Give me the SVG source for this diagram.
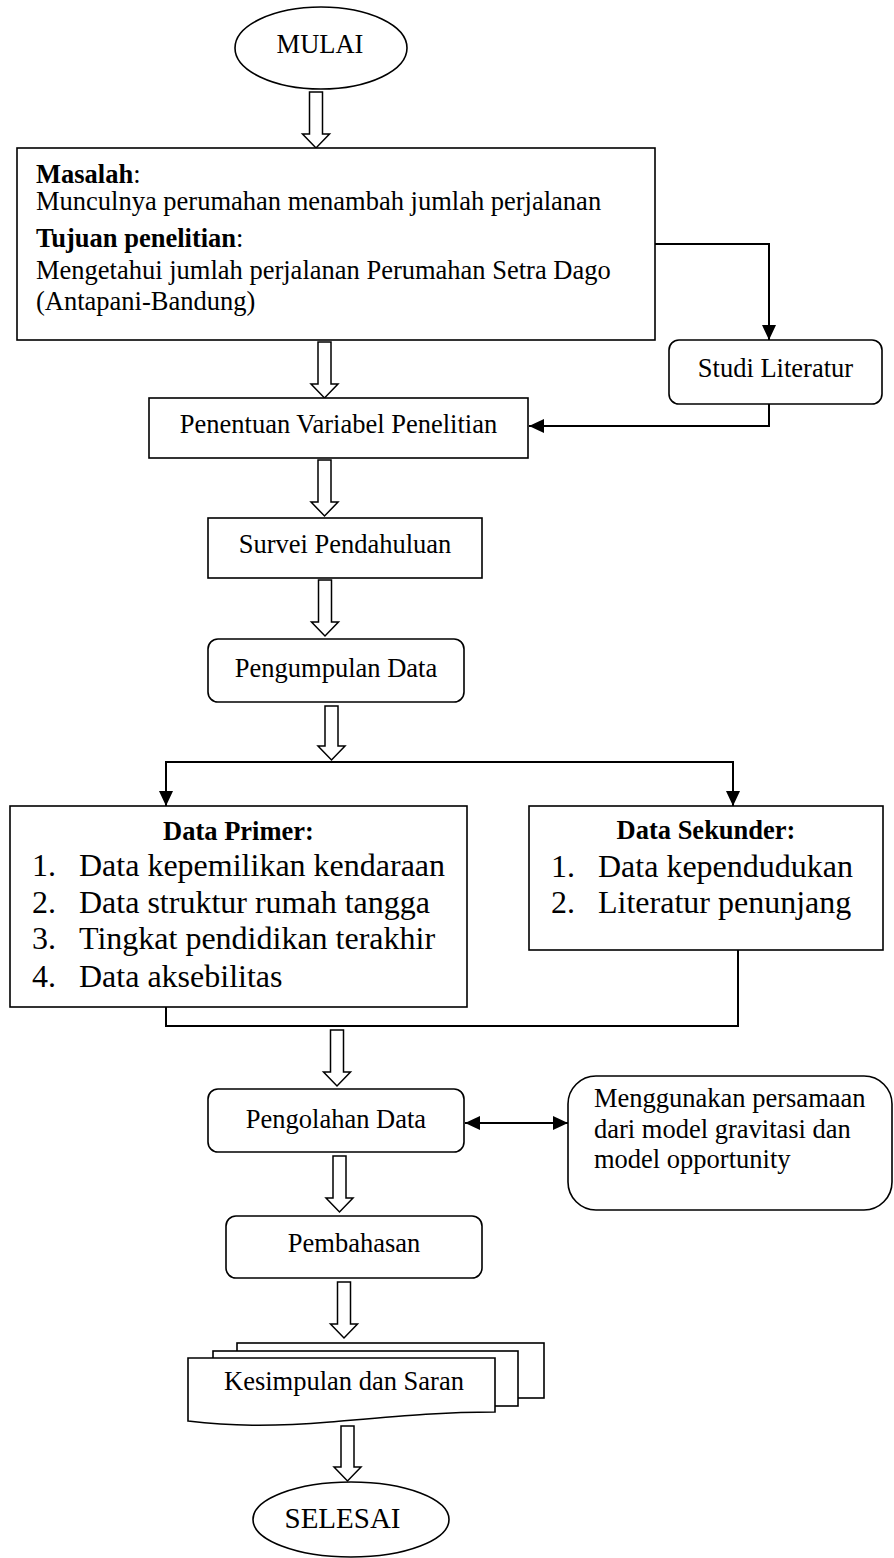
<svg xmlns="http://www.w3.org/2000/svg" width="894" height="1558" viewBox="0 0 894 1558">
<style>
text{font-family:"Liberation Serif","Times New Roman",serif;font-size:26.5px;fill:#000}
.b{font-weight:bold}
.big{font-size:32px}
.mid{text-anchor:middle}
.box{fill:#fff;stroke:#000;stroke-width:1.6}
.blk{fill:#fff;stroke:#000;stroke-width:1.5;stroke-linejoin:miter}
.con{fill:none;stroke:#000;stroke-width:2}
</style>
<defs>
<marker id="ah" viewBox="0 0 15 14" refX="15" refY="7" markerWidth="15" markerHeight="14" markerUnits="userSpaceOnUse" orient="auto-start-reverse">
<path d="M0,0 L15,7 L0,14 Z" fill="#000"/>
</marker>
</defs>
<rect width="894" height="1558" fill="#fff"/>

<g id="connectors">
<path class="con" d="M655,244 H769 V340" marker-end="url(#ah)"/>
<path class="con" d="M769,404 V426 H529" marker-end="url(#ah)"/>
<path class="con" d="M331,762 H166 V806" marker-end="url(#ah)"/>
<path class="con" d="M331,762 H733 V806" marker-end="url(#ah)"/>
<path class="con" d="M166,1007 V1026 H738 V950"/>
<path class="con" d="M465,1123 H568" marker-start="url(#ah)" marker-end="url(#ah)"/>
<polygon class="blk" points="309.5,92 322.5,92 322.5,134 329.5,134 316,148 302.5,134 309.5,134"/>
<polygon class="blk" points="318,342 331,342 331,384 338,384 324.5,398 311,384 318,384"/>
<polygon class="blk" points="318,460 331,460 331,502 338,502 324.5,516 311,502 318,502"/>
<polygon class="blk" points="318.5,580 331.5,580 331.5,622 338.5,622 325,636 311.5,622 318.5,622"/>
<polygon class="blk" points="325,706 338,706 338,746 345,746 331.5,760 318,746 325,746"/>
<polygon class="blk" points="330.5,1030 343.5,1030 343.5,1072 350.5,1072 337,1086 323.5,1072 330.5,1072"/>
<polygon class="blk" points="333,1156 346,1156 346,1198 353,1198 339.5,1212 326,1198 333,1198"/>
<polygon class="blk" points="337.5,1282 350.5,1282 350.5,1324 357.5,1324 344,1338 330.5,1324 337.5,1324"/>
<polygon class="blk" points="341,1426 354,1426 354,1467 361,1467 347.5,1481 334,1467 341,1467"/>
</g>

<g id="mulai">
<ellipse class="box" cx="321" cy="48" rx="86" ry="41"/>
<text class="mid" x="320" y="53">MULAI</text>
</g>

<g id="masalah">
<rect class="box" x="17" y="148" width="638" height="192"/>
<text x="36" y="183"><tspan class="b">Masalah</tspan>:</text>
<text x="36" y="210">Munculnya perumahan menambah jumlah perjalanan</text>
<text x="36" y="247"><tspan class="b">Tujuan penelitian</tspan>:</text>
<text x="36" y="279">Mengetahui jumlah perjalanan Perumahan Setra Dago</text>
<text x="36" y="310">(Antapani-Bandung)</text>
</g>

<g id="studi">
<rect class="box" x="669" y="340" width="213" height="64" rx="10"/>
<text class="mid" x="775.5" y="377">Studi Literatur</text>
</g>

<g id="penentuan">
<rect class="box" x="149" y="398" width="379" height="60"/>
<text class="mid" x="338.5" y="433">Penentuan Variabel Penelitian</text>
</g>

<g id="survei">
<rect class="box" x="208" y="518" width="274" height="60"/>
<text class="mid" x="345" y="553">Survei Pendahuluan</text>
</g>

<g id="pengumpulan">
<rect class="box" x="208" y="639" width="256" height="63" rx="10"/>
<text class="mid" x="336" y="677">Pengumpulan Data</text>
</g>

<g id="primer">
<rect class="box" x="10" y="806" width="457" height="201"/>
<text class="mid b" x="238.5" y="840">Data Primer:</text>
<text class="big" x="32" y="876">1.</text><text class="big" x="79" y="876">Data kepemilikan kendaraan</text>
<text class="big" x="32" y="913">2.</text><text class="big" x="79" y="913">Data struktur rumah tangga</text>
<text class="big" x="32" y="949">3.</text><text class="big" x="79" y="949">Tingkat pendidikan terakhir</text>
<text class="big" x="32" y="987">4.</text><text class="big" x="79" y="987">Data aksebilitas</text>
</g>

<g id="sekunder">
<rect class="box" x="529" y="806" width="354" height="144"/>
<text class="mid b" x="706" y="839">Data Sekunder:</text>
<text class="big" x="551" y="877">1.</text><text class="big" x="598" y="877">Data kependudukan</text>
<text class="big" x="551" y="913">2.</text><text class="big" x="598" y="913">Literatur penunjang</text>
</g>

<g id="pengolahan">
<rect class="box" x="208" y="1089" width="256" height="63" rx="10"/>
<text class="mid" x="336" y="1128">Pengolahan Data</text>
</g>

<g id="menggunakan">
<rect class="box" x="568" y="1076" width="324" height="134" rx="28"/>
<text x="594" y="1107">Menggunakan persamaan</text>
<text x="594" y="1138">dari model gravitasi dan</text>
<text x="594" y="1168">model opportunity</text>
</g>

<g id="pembahasan">
<rect class="box" x="226" y="1216" width="256" height="62" rx="10"/>
<text class="mid" x="354" y="1252">Pembahasan</text>
</g>

<g id="kesimpulan">
<rect class="box" x="237" y="1343" width="307" height="55"/>
<rect class="box" x="213" y="1351" width="305" height="55"/>
<path class="box" d="M188,1358 H495 V1412 C440,1412 400,1416 330,1422 C270,1427 230,1426 188,1421 Z"/>
<text x="224" y="1390">Kesimpulan dan Saran</text>
</g>

<g id="selesai">
<ellipse class="box" cx="351" cy="1519.5" rx="98" ry="37.5"/>
<text class="mid" x="342.5" y="1528" style="font-size:29px">SELESAI</text>
</g>
</svg>
